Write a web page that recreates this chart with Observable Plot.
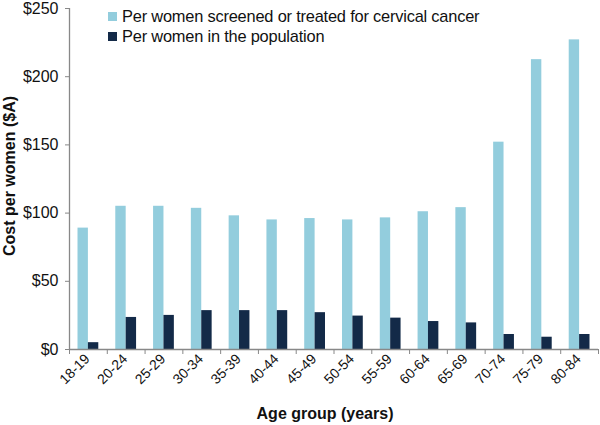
<!DOCTYPE html>
<html>
<head>
<meta charset="utf-8">
<script src="https://cdn.jsdelivr.net/npm/d3@7"></script>
<script src="https://cdn.jsdelivr.net/npm/@observablehq/plot@0.6"></script>
<style>
  html, body { margin: 0; padding: 0; background: #fff; }
  #wrap { position: relative; width: 600px; height: 425px; font-family: "Liberation Sans", Arial, Helvetica, sans-serif; }
  #legend { position: absolute; left: 108px; top: 6px; font-size: 16.4px; color: #111; letter-spacing: -0.2px; }
  #legend .row { display: flex; align-items: center; height: 20px; }
  #legend .sw { width: 9px; height: 9px; margin-right: 5px; }
</style>
</head>
<body>
<div id="wrap">
  <div id="chart"></div>
  <div id="legend"></div>
</div>
<script>
const ageGroups = ["18-19","20-24","25-29","30-34","35-39","40-44","45-49","50-54","55-59","60-64","65-69","70-74","75-79","80-84"];
const seriesNames = ["Per women screened or treated for cervical cancer", "Per women in the population"];
const screenedCost = [89, 105, 105, 103.5, 98, 95, 96, 95, 96.5, 101, 104, 152, 212.5, 227];
const populationCost = [5, 23.5, 25, 28.5, 28.5, 28.5, 27, 24.5, 23, 20.5, 19.5, 11, 9, 11];
const yTicks = [0, 50, 100, 150, 200, 250];
const colors = ["#93CDDD", "#132A48"];

const rows = [];
ageGroups.forEach((g, i) => {
  rows.push({i, group: g, series: seriesNames[0], value: screenedCost[i], half: 0});
  rows.push({i, group: g, series: seriesNames[1], value: populationCost[i], half: 1});
});

const boundaries = d3.range(ageGroups.length + 1);
const centers = ageGroups.map((g, i) => i + 0.5);

const chart = Plot.plot({
  width: 600,
  height: 425,
  marginLeft: 69,
  marginRight: 2,
  marginTop: 8,
  marginBottom: 76,
  style: {fontFamily: '"Liberation Sans", Arial, Helvetica, sans-serif', background: "#fff"},
  x: {type: "linear", domain: [0, ageGroups.length]},
  y: {domain: [0, 250]},
  color: {domain: seriesNames, range: colors},
  marks: [
    Plot.rectY(rows.filter(d => d.half === 0), {
      x1: d => d.i, x2: d => d.i + 0.5, y: "value", fill: "series", insetLeft: 8.5, insetRight: 0
    }),
    Plot.rectY(rows.filter(d => d.half === 1), {
      x1: d => d.i + 0.5, x2: d => d.i + 1, y: "value", fill: "series", insetLeft: 0, insetRight: 8.5
    }),
    Plot.axisY({
      ticks: yTicks, tickFormat: d => "$" + d, tickSize: 4, tickPadding: 7,
      fontSize: 16, stroke: "#888", fill: "#111", label: null, letterSpacing: -0.4
    }),
    Plot.ruleX([0], {stroke: "#888", strokeWidth: 1.3}),
    Plot.text(["Cost per women ($A)"], {
      frameAnchor: "left", textAnchor: "middle", dx: -60, dy: -3, rotate: -90,
      fontSize: 16, fontWeight: "bold", fill: "#111"
    }),
    Plot.ruleY([0], {stroke: "#888", strokeWidth: 1.3}),
    Plot.axisX({
      ticks: boundaries, tickFormat: () => "", tickSize: 5, stroke: "#888", label: null
    }),
    Plot.axisX({
      ticks: centers, tickFormat: d => ageGroups[Math.floor(d)], tickSize: 0, tickRotate: -45,
      tickPadding: 7, fontSize: 14, fill: "#111", label: null, dx: -1, letterSpacing: -0.3
    }),
    Plot.text(["Age group (years)"], {
      frameAnchor: "bottom", dy: 69, dx: -9, fontSize: 16, fontWeight: "bold", fill: "#111"
    })
  ]
});
document.getElementById("chart").appendChild(chart);

const legend = document.getElementById("legend");
seriesNames.forEach((name, k) => {
  const row = document.createElement("div");
  row.className = "row";
  const sw = document.createElement("span");
  sw.className = "sw";
  sw.style.background = colors[k];
  const t = document.createElement("span");
  t.textContent = name;
  row.appendChild(sw);
  row.appendChild(t);
  legend.appendChild(row);
});
</script>
</body>
</html>
